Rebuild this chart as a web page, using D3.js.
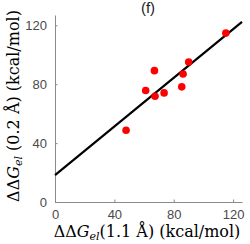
<!DOCTYPE html>
<html><head><meta charset="utf-8">
<script src="https://cdn.jsdelivr.net/npm/d3@7"></script>
<style>body{margin:0;background:#fff}svg{display:block}</style>
</head><body>
<script>
const xValues = [47.9, 61.1, 67.0, 67.4, 73.5, 85.4, 86.3, 90.1, 115.1];
const yValues = [48.7, 75.7, 89.2, 71.8, 74.1, 78.2, 86.9, 95.1, 114.7];
const fitLine = [[0, 18.3], [126, 122.3]];
const xTicks = [0, 40, 80, 120];
const yTicks = [0, 40, 80, 120];
const title = "(f)";

const W = 250, H = 244;
const svg = d3.select("body").append("svg").attr("width", W).attr("height", H);
const x = d3.scaleLinear().domain([0, 126]).range([55, 242]);
const y = d3.scaleLinear().domain([0, 127]).range([202, 15]);
const sans = "'Liberation Sans', Arial, sans-serif";

const gx = svg.append("g").attr("transform", "translate(0,202)")
  .call(d3.axisBottom(x).tickValues(xTicks).tickSize(0).tickPadding(8).tickSizeOuter(0));
const gy = svg.append("g").attr("transform", "translate(55,0)")
  .call(d3.axisLeft(y).tickValues(yTicks).tickSize(0).tickPadding(8).tickSizeOuter(0));
[gx, gy].forEach(g => {
  g.select(".domain").attr("stroke", "#8a8a8a").attr("stroke-width", 1);
  g.selectAll("text").attr("fill", "#4a4a4a").attr("font-family", sans).attr("font-size", 13);
});
gx.selectAll(".tick").append("line").attr("y1", 0).attr("y2", -2.5).attr("stroke", "#8a8a8a");
gy.selectAll(".tick").append("line").attr("x1", 0).attr("x2", 2.5).attr("stroke", "#8a8a8a");

svg.append("line")
  .attr("x1", x(fitLine[0][0])).attr("y1", y(fitLine[0][1]))
  .attr("x2", x(fitLine[1][0])).attr("y2", y(fitLine[1][1]))
  .attr("stroke", "#000").attr("stroke-width", 2.2);

svg.append("g").selectAll("circle").data(xValues).join("circle")
  .attr("cx", d => x(d)).attr("cy", (d, i) => y(yValues[i]))
  .attr("r", 3.8).attr("fill", "#ff0000");

svg.append("text").attr("x", 148).attr("y", 13).attr("text-anchor", "middle")
  .attr("font-family", sans).attr("font-size", 15).attr("fill", "#222").text(title);

const serif = "'DejaVu Serif', 'Liberation Serif', serif";
const xl = svg.append("text").attr("x", 147).attr("y", 237).attr("text-anchor", "middle")
  .attr("font-family", serif).attr("font-size", 16).attr("fill", "#000");
xl.append("tspan").text("ΔΔ");
xl.append("tspan").attr("font-style", "italic").text("G");
xl.append("tspan").attr("font-style", "italic").attr("font-size", 11).attr("dy", 3).text("el");
xl.append("tspan").attr("dy", -3).text("(1.1 Å) (kcal/mol)");

const yl = svg.append("text").attr("transform", "translate(19,106) rotate(-90)").attr("text-anchor", "middle")
  .attr("font-family", serif).attr("font-size", 16).attr("fill", "#000");
yl.append("tspan").text("ΔΔ");
yl.append("tspan").attr("font-style", "italic").text("G");
yl.append("tspan").attr("font-style", "italic").attr("font-size", 11).attr("dy", 3).text("el");
yl.append("tspan").attr("dy", -3).text(" (0.2 Å) (kcal/mol)");
</script>
</body></html>
